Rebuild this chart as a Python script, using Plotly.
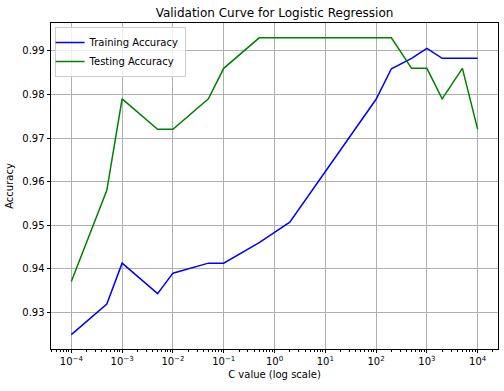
import plotly.graph_objects as go

c_values = [1e-4, 5e-4, 1e-3, 5e-3, 1e-2, 5e-2, 1e-1, 5e-1, 2, 100, 200, 500, 1000, 2000, 5000, 10000]
train_acc = [0.9249, 0.9319, 0.9413, 0.9343, 0.9390, 0.9413, 0.9413, 0.9460, 0.9507, 0.9789,
             0.9859, 0.9883, 0.9906, 0.9883, 0.9883, 0.9883]
test_acc = [0.9371, 0.9580, 0.9790, 0.9720, 0.9720, 0.9790, 0.9860, 0.9930, 0.9930, 0.9930,
            0.9930, 0.9860, 0.9860, 0.9790, 0.9860, 0.9720]

x_tickvals = [1e-4, 1e-3, 1e-2, 1e-1, 1e0, 1e1, 1e2, 1e3, 1e4]
x_ticktext = ["10<sup>−4</sup>", "10<sup>−3</sup>", "10<sup>−2</sup>", "10<sup>−1</sup>",
              "10<sup>0</sup>", "10<sup>1</sup>", "10<sup>2</sup>", "10<sup>3</sup>", "10<sup>4</sup>"]
y_tickvals = [0.93, 0.94, 0.95, 0.96, 0.97, 0.98, 0.99]

fig = go.Figure()
fig.add_trace(go.Scatter(x=c_values, y=train_acc, mode="lines", name="Training Accuracy",
                         line=dict(color="#0000ff", width=1.5)))
fig.add_trace(go.Scatter(x=c_values, y=test_acc, mode="lines", name="Testing Accuracy",
                         line=dict(color="#008000", width=1.5)))

font = dict(family="DejaVu Sans", size=10, color="black")
fig.update_layout(
    width=504, height=391,
    margin=dict(l=51, r=6, t=23, b=42, autoexpand=False),
    paper_bgcolor="white", plot_bgcolor="white",
    font=font,
    title=dict(text="Validation Curve for Logistic Regression", x=(51 + 498) / 2 / 504, xanchor="center",
               y=1 - 13/391, yanchor="middle", automargin=False,
               font=dict(family="DejaVu Sans", size=12, color="black")),
    legend=dict(x=0.008, y=0.988, xanchor="left", yanchor="top", bgcolor="rgba(255,255,255,0.8)",
                bordercolor="#cccccc", borderwidth=1, font=dict(family="DejaVu Sans", size=10, color="black"),
                tracegroupgap=0, itemwidth=30, indentation=-6),
    showlegend=True,
)
fig.update_xaxes(type="log", range=[-4.4, 4.4], tickvals=x_tickvals, ticktext=x_ticktext,
                 automargin=False,
                 showgrid=True, gridcolor="#b0b0b0", gridwidth=0.8,
                 ticks="outside", ticklen=3.5, tickcolor="black", tickwidth=0.8,
                 showline=True, linecolor="black", linewidth=0.8, mirror=True, zeroline=False,
                 minor=dict(ticks="outside", ticklen=2, tickcolor="black", tickwidth=0.6, dtick="D1", showgrid=False),
                 title=dict(text="C value (log scale)", standoff=4, font=font))
fig.update_yaxes(range=[0.9216, 0.9964], tickvals=y_tickvals, tickformat=".2f",
                 automargin=False,
                 showgrid=True, gridcolor="#b0b0b0", gridwidth=0.8,
                 ticks="outside", ticklen=3.5, tickcolor="black", tickwidth=0.8,
                 showline=True, linecolor="black", linewidth=0.8, mirror=True, zeroline=False,
                 title=dict(text="Accuracy", standoff=6, font=font))

fig.write_html("out.html", config={"displayModeBar": False},
               post_script="document.body.style.margin='0';")
